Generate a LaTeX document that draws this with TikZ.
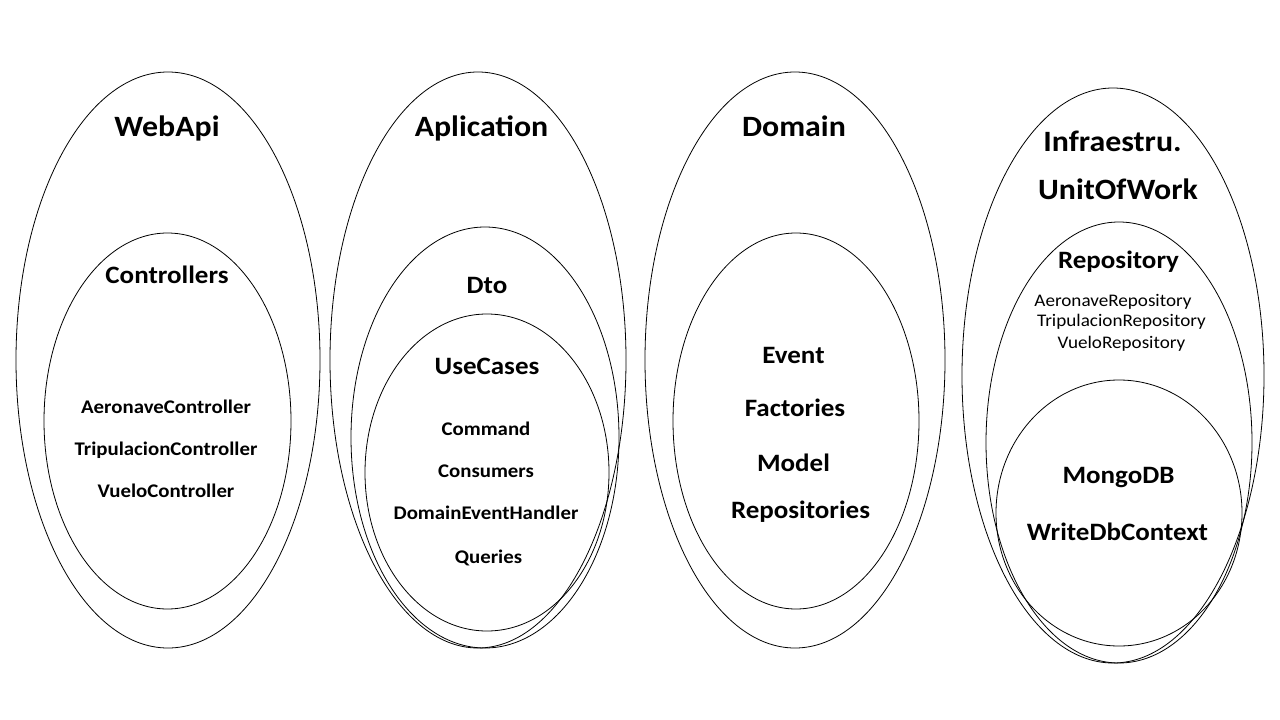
\documentclass[tikz,border=0pt]{standalone}
\usepackage{fontspec}
\setmainfont{Carlito}[FakeStretch=1.08]
\usetikzlibrary{shapes.geometric}
\tikzset{
  oval/.style={draw, ellipse, line width=0.8pt, inner sep=0pt},
  ttl/.style={font=\bfseries\fontsize{29.5}{31}\selectfont, anchor=base, inner sep=0pt},
  sub/.style={font=\bfseries\fontsize{25}{27}\selectfont, anchor=base, inner sep=0pt},
  itm/.style={font=\bfseries\fontsize{19.3}{21}\selectfont, anchor=base, inner sep=0pt},
  big/.style={font=\bfseries\fontsize{25}{27}\selectfont, anchor=base, inner sep=0pt},
  sml/.style={font=\fontsize{17.7}{19}\selectfont, anchor=base, inner sep=0pt}
}
\begin{document}
\begin{tikzpicture}[x=1pt,y=-1pt]
\useasboundingbox[fill=white] (0,0) rectangle (1280,720);
% WebApi
\node[oval, minimum width=304pt, minimum height=576pt] (webo) at (168,360) {};
\node[oval, minimum width=247pt, minimum height=376pt] (ctrl) at (167.5,421) {};
% Aplication
\node[oval, minimum width=296pt, minimum height=576pt] (aplo) at (478,360) {};
\node[oval, minimum width=268pt, minimum height=421pt] (dto) at (485,437.5) {};
\node[oval, minimum width=244pt, minimum height=317pt] (uc) at (487,472.5) {};
% Domain
\node[oval, minimum width=300pt, minimum height=576pt] (domo) at (795,360) {};
\node[oval, minimum width=246pt, minimum height=376pt] (domi) at (796,421) {};
% Infra
\node[oval, minimum width=302pt, minimum height=575pt] (info) at (1113,375.5) {};
\node[oval, minimum width=266pt, minimum height=441pt] (repo) at (1119,442.5) {};
\node[oval, minimum width=246pt, minimum height=266pt] (mongo) at (1119,513) {};

% texts
\node[ttl] (t1) at (167,136) {WebApi};
\node[sub] (t2) at (167,283) {Controllers};
\node[itm] (t3) at (166,413) {AeronaveController};
\node[itm] (t4) at (166,455) {TripulacionController};
\node[itm] (t5) at (166,497) {VueloController};

\node[ttl] (a1) at (481.5,136) {Aplication};
\node[sub] (a2) at (487,293) {Dto};
\node[sub] (a3) at (487,374) {UseCases};
\node[itm] (a4) at (486,435) {Command};
\node[itm] (a5) at (486,477) {Consumers};
\node[itm] (a6) at (486,519) {DomainEventHandler};
\node[itm] (a7) at (488.5,563) {Queries};

\node[ttl] (d1) at (794,136) {Domain};
\node[big] (d2) at (793.5,363) {Event};
\node[big] (d3) at (795,416) {Factories};
\node[big] (d4) at (793.5,471) {Model};
\node[big] (d5) at (800.5,518) {Repositories};

\node[ttl] (i1) at (1112.5,151.5) {Infraestru.};
\node[ttl] (i2) at (1118,199) {UnitOfWork};
\node[sub] (i3) at (1118.5,268.5) {Repository};
\node[sml] (i4) at (1113,306) {AeronaveRepository};
\node[sml] (i5) at (1121.5,326) {TripulacionRepository};
\node[sml] (i6) at (1121.5,348.5) {VueloRepository};
\node[big] (i7) at (1118.5,483) {MongoDB};
\node[big] (i8) at (1117.5,540) {WriteDbContext};
\end{tikzpicture}
\end{document}
